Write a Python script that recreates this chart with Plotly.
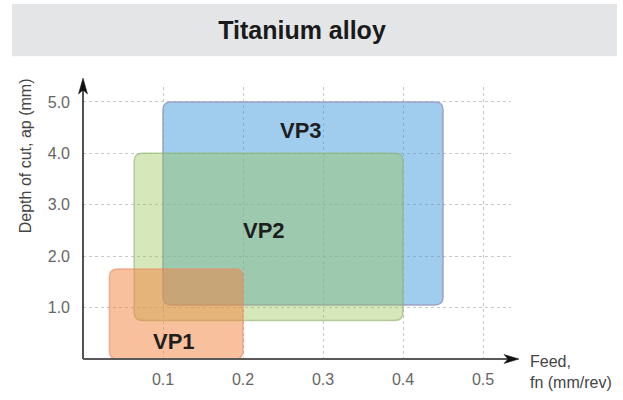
import plotly.graph_objects as go

# ---- data ----
zones = ["VP1", "VP2", "VP3"]
feed_min = [0.033, 0.064, 0.100]
feed_max = [0.200, 0.400, 0.450]
depth_min = [0.00, 0.75, 1.05]
depth_max = [1.75, 4.00, 5.00]
label_feed = [0.114, 0.226, 0.272]
label_depth = [0.34, 2.49, 4.44]
x_ticks = [0.1, 0.2, 0.3, 0.4, 0.5]
x_tick_labels = ["0.1", "0.2", "0.3", "0.4", "0.5"]
y_ticks = [1, 2, 3, 4, 5]
y_tick_labels = ["1.0", "2.0", "3.0", "4.0", "5.0"]
title = "Titanium alloy"
x_title = "Feed,<br>fn (mm/rev)"
y_title = "Depth of cut, ap (mm)"

# ---- layout constants ----
W, H = 623, 400
ML, MR, MT, MB = 83, 112, 87, 38
PW, PH = W - ML - MR, H - MT - MB
X_RANGE = [0, 0.535]
Y_RANGE = [0, 5.29]

fills = ["rgba(243,129,61,0.5)", "rgba(152,195,80,0.4)", "rgba(65,155,221,0.5)"]
borders = ["rgba(230,140,105,0.6)", "rgba(140,180,110,0.6)", "rgba(155,155,195,0.9)"]


def px_x(p):  # pixel x -> paper
    return (p - ML) / PW


def px_y(p):  # pixel y -> paper
    return (H - MB - p) / PH


def rrect(x0, x1, y0, y1, rpx=8):
    rx = rpx * (X_RANGE[1] - X_RANGE[0]) / PW
    ry = rpx * (Y_RANGE[1] - Y_RANGE[0]) / PH
    return (f"M{x0+rx},{y0} L{x1-rx},{y0} Q{x1},{y0} {x1},{y0+ry} "
            f"L{x1},{y1-ry} Q{x1},{y1} {x1-rx},{y1} L{x0+rx},{y1} "
            f"Q{x0},{y1} {x0},{y1-ry} L{x0},{y0+ry} Q{x0},{y0} {x0+rx},{y0} Z")


fig = go.Figure()
fig.add_trace(go.Scatter(x=[None], y=[None], showlegend=False, hoverinfo="skip"))

shapes = []
# title banner
shapes.append(dict(type="rect", xref="paper", yref="paper",
                   x0=px_x(12), x1=px_x(617), y0=px_y(56), y1=px_y(3),
                   fillcolor="#E4E5E6", line=dict(width=0), layer="below"))

# zone rectangles (VP3 bottom, then VP2, then VP1)
for i in [2, 1, 0]:
    shapes.append(dict(type="path", xref="x", yref="y",
                       path=rrect(feed_min[i], feed_max[i], depth_min[i], depth_max[i]),
                       fillcolor=fills[i], line=dict(color=borders[i], width=1.5)))

# axes lines
shapes.append(dict(type="line", xref="paper", yref="paper",
                   x0=0, x1=0, y0=0, y1=px_y(88), line=dict(color="#1a1a1a", width=1.5)))
shapes.append(dict(type="line", xref="paper", yref="paper",
                   x0=0, x1=px_x(510), y0=0, y1=0, line=dict(color="#5a5a5a", width=2)))
# arrowheads
tx, ty = px_x(83), px_y(78)
shapes.append(dict(type="path", xref="paper", yref="paper",
                   path=(f"M{tx},{ty} L{px_x(87.5)},{px_y(94)} L{tx},{px_y(90)} "
                         f"L{px_x(78.5)},{px_y(94)} Z"),
                   fillcolor="#111", line=dict(color="#111", width=0.5)))
tx, ty = px_x(519), px_y(362)
shapes.append(dict(type="path", xref="paper", yref="paper",
                   path=(f"M{tx},{ty} L{px_x(504)},{px_y(357.5)} L{px_x(508)},{ty} "
                         f"L{px_x(504)},{px_y(366.5)} Z"),
                   fillcolor="#111", line=dict(color="#111", width=0.5)))

annotations = []
for i in range(3):
    annotations.append(dict(x=label_feed[i], y=label_depth[i], xref="x", yref="y",
                            xanchor="center", yanchor="middle",
                            text=f"<b>{zones[i]}</b>", showarrow=False,
                            font=dict(family="Liberation Sans, Arial",
                                      size=22, color="#1e1e1e")))
annotations.append(dict(x=px_x(25), y=px_y(157), xref="paper", yref="paper",
                        xanchor="center", yanchor="middle",
                        text=y_title, textangle=-90, showarrow=False,
                        font=dict(family="Liberation Sans, Arial", size=16, color="#444")))
annotations.append(dict(x=px_x(528), y=px_y(375.5), xref="paper", yref="paper",
                        text=x_title, showarrow=False, xanchor="left", yanchor="middle",
                        align="left",
                        font=dict(family="Liberation Sans, Arial", size=16, color="#444")))

fig.update_layout(
    width=W, height=H,
    margin=dict(l=ML, r=MR, t=MT, b=MB, pad=0),
    paper_bgcolor="white", plot_bgcolor="white",
    title=dict(text=f"<b>{title}</b>", x=302 / W, xanchor="center", xref="container",
               y=1 - 30 / H, yanchor="middle", yref="container",
               font=dict(family="Liberation Sans, Arial", size=25, color="#1a1a1a")),
    shapes=shapes, annotations=annotations, showlegend=False,
    xaxis=dict(range=X_RANGE, tickvals=x_ticks, ticktext=x_tick_labels,
               showgrid=True, gridcolor="#c8c8c8", griddash="dot", gridwidth=1,
               zeroline=False, showline=False, ticks="", ticklabelstandoff=9,
               tickfont=dict(family="Liberation Sans, Arial", size=16, color="#666"),
               fixedrange=True),
    yaxis=dict(range=Y_RANGE, tickvals=y_ticks, ticktext=y_tick_labels,
               showgrid=True, gridcolor="#c8c8c8", griddash="dot", gridwidth=1,
               zeroline=False, showline=False, ticks="", ticklabelstandoff=12,
               tickfont=dict(family="Liberation Sans, Arial", size=16, color="#666"),
               fixedrange=True),
)

fig.write_html("out.html", config={"displayModeBar": False},
               post_script="document.body.style.margin='0';document.body.style.padding='0';")
